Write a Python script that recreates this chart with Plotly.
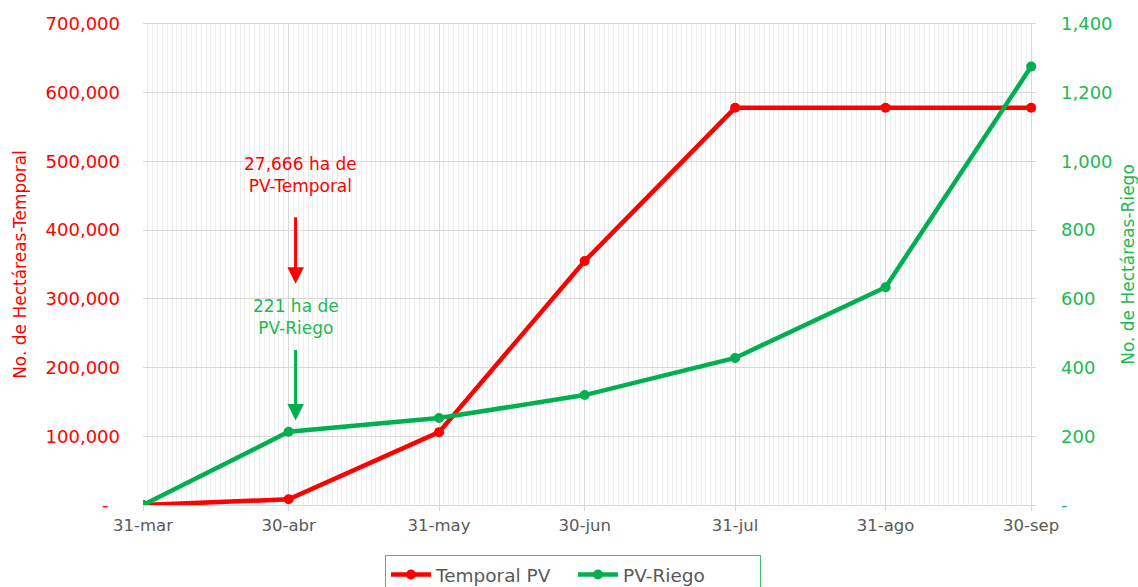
import plotly.graph_objects as go

dates = ["2021-03-31", "2021-04-30", "2021-05-31", "2021-06-30", "2021-07-31", "2021-08-31", "2021-09-30"]
tick_labels = ["31-mar", "30-abr", "31-may", "30-jun", "31-jul", "31-ago", "30-sep"]
temporal = [0, 8300, 106000, 355000, 578000, 578000, 578000]
riego = [0, 213, 253, 320, 428, 634, 1276]

left_ticks = [0, 100000, 200000, 300000, 400000, 500000, 600000, 700000]
left_text = ["-\u00a0\u00a0", "100,000", "200,000", "300,000", "400,000", "500,000", "600,000", "700,000"]
right_ticks = [0, 200, 400, 600, 800, 1000, 1200, 1400]
right_text = ["-", "200", "400", "600", "800", "1,000", "1,200", "1,400"]

RED = "#FF0000"
GREEN = "#00B050"
RGREEN = "#1DB954"
FONT = "DejaVu Sans"

fig = go.Figure()
fig.add_trace(go.Scatter(x=dates, y=temporal, name="Temporal PV", mode="lines+markers",
                         line=dict(color=RED, width=4.5), marker=dict(color=RED, size=10)))
fig.add_trace(go.Scatter(x=dates, y=riego, name="PV-Riego", mode="lines+markers", yaxis="y2",
                         line=dict(color=GREEN, width=4.5), marker=dict(color=GREEN, size=10)))

fig.update_layout(
    width=1138, height=587,
    margin=dict(l=143, r=102, t=24, b=82, autoexpand=False),
    plot_bgcolor="white", paper_bgcolor="white",
    font=dict(family=FONT, size=17, color="#595959"),
    showlegend=True,
    legend=dict(orientation="h", x=0.4815, xanchor="center", y=-0.104, yanchor="top",
                bordercolor="#3CC36E", borderwidth=1, font=dict(size=18.5, color="#595959"),
                itemwidth=40, entrywidth=132, traceorder="normal"),
    xaxis=dict(type="date", range=["2021-03-31", "2021-10-01"], automargin=False,
               tickvals=dates, ticktext=tick_labels,
               tickfont=dict(size=16.5, color="#595959"),
               showgrid=True, gridcolor="#D9D9D9", gridwidth=1,
               ticks="outside", ticklen=5, tickcolor="#D9D9D9",
               showline=True, linecolor="#D9D9D9", mirror=True,
               minor=dict(dtick=86400000, showgrid=True, gridcolor="#EEEEEE", gridwidth=1),
               zeroline=False),
    yaxis=dict(range=[0, 700000], tickvals=left_ticks, ticktext=left_text, automargin=False,
               tickfont=dict(size=18, color=RED), showgrid=True, gridcolor="#D9D9D9",
               zeroline=False, ticks="", ticklabelstandoff=22,
               title=dict(text="No. de Hectáreas-Temporal", font=dict(size=17, color=RED), standoff=14)),
    yaxis2=dict(range=[0, 1400], tickvals=right_ticks, ticktext=right_text, overlaying="y", side="right",
                tickfont=dict(size=18, color=RGREEN), showgrid=False, zeroline=False, automargin=False,
                ticklabelstandoff=24,
                title=dict(text="No. de Hectáreas-Riego", font=dict(size=17, color=RGREEN), standoff=16)),
)

fig.add_annotation(x="2021-04-30", y=480000, xref="x", yref="y", text="27,666 ha de<br>PV-Temporal",
                   showarrow=False, font=dict(size=17, color=RED), xshift=12, yanchor="middle")
fig.add_annotation(x="2021-04-30", y=322000, xref="x", yref="y", ax=0, ay=-68, axref="pixel", ayref="pixel",
                   text="", showarrow=True, arrowhead=2, arrowsize=1.1, arrowwidth=3, arrowcolor=RED, xshift=7)
fig.add_annotation(x="2021-04-30", y=274000, xref="x", yref="y", text="221 ha de<br>PV-Riego",
                   showarrow=False, font=dict(size=17, color=RGREEN), xshift=7, yanchor="middle")
fig.add_annotation(x="2021-04-30", y=123000, xref="x", yref="y", ax=0, ay=-72, axref="pixel", ayref="pixel",
                   text="", showarrow=True, arrowhead=2, arrowsize=1.1, arrowwidth=3, arrowcolor=GREEN, xshift=7)

fig.write_html("out.html", config={"displayModeBar": False},
               post_script="document.body.style.margin='0px';document.body.style.overflow='hidden';")
